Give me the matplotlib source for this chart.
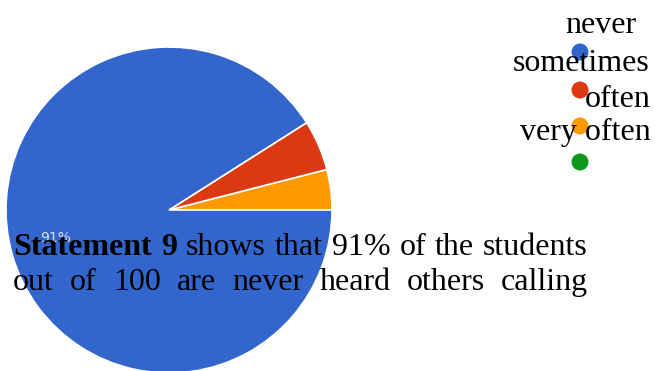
import matplotlib
matplotlib.use('Agg')
import matplotlib.pyplot as plt

plt.rcParams['font.family'] = ['Liberation Serif', 'DejaVu Serif']

# answers to statement 9 (percent of 100 students)
labels = ['never', 'sometimes', 'often', 'very often']
values = [91, 5, 4, 0]
colors = ['#3366CC', '#DC3912', '#FF9900', '#109618']

W, H = 655, 371
fig = plt.figure(figsize=(W / 100, H / 100), dpi=100)
ax = fig.add_axes([0, 0, 1, 1])


def py(y):
    # pixel row (from top) -> data y
    return H - y


# pie drawn from 3 o'clock, smallest slices first
ax.pie(values[::-1], colors=colors[::-1], startangle=0, counterclock=True,
       center=(169, py(210)), radius=163, frame=True,
       wedgeprops=dict(edgecolor='white', linewidth=1.2))
ax.set_xlim(0, W)
ax.set_ylim(0, H)
ax.set_aspect('auto')
ax.axis('off')

# faint slice label left inside the big slice
ax.text(56, py(238), f"{values[0]}%", color='white', fontsize=10, alpha=0.8,
        ha='center', va='center', family='DejaVu Sans')

# legend: dots and their labels
dot_y = [52, 90, 126, 162]
ax.scatter([580] * len(labels), [py(v) for v in dot_y], s=150, c=colors,
           edgecolors='none', zorder=3)
lab_pos = [(636, 33), (650, 71), (651, 107), (651, 140)]
for lab, (lx, ly) in zip(labels, lab_pos):
    ax.text(lx, py(ly), lab, fontsize=23, ha='right', va='baseline', zorder=4)


def justify(words, base, x0=13, x1=588):
    texts = [ax.text(0, py(base), w, fontsize=23, fontweight=fw,
                     va='baseline', zorder=5) for w, fw in words]
    r = fig.canvas.get_renderer()
    widths = [t.get_window_extent(r).width for t in texts]
    gap = (x1 - x0 - sum(widths)) / (len(words) - 1)
    x = x0
    for t, w in zip(texts, widths):
        t.set_x(x)
        x += w + gap


line1 = [('Statement', 'bold'), ('9', 'bold'), ('shows', 'normal'),
         ('that', 'normal'), (f"{values[0]}%", 'normal'), ('of', 'normal'),
         ('the', 'normal'), ('students', 'normal')]
line2 = [(w, 'normal') for w in
         'out of 100 are never heard others calling'.split()]
justify(line1, 255)
justify(line2, 290)

fig.savefig('out.png', dpi=100)
